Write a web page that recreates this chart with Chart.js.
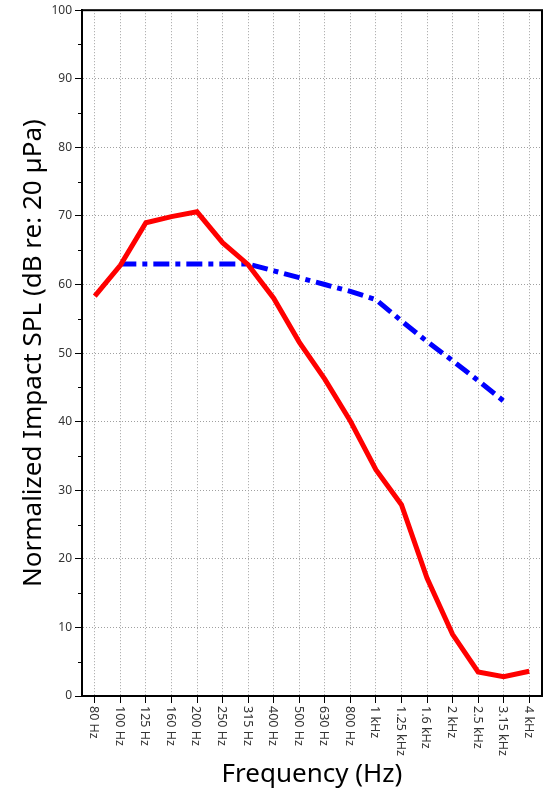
<!DOCTYPE html>
<html>
<head>
<meta charset="utf-8">
<script src="https://cdn.jsdelivr.net/npm/chart.js@4.4.1/dist/chart.umd.min.js"></script>
<style>
  html, body { margin: 0; padding: 0; background: #fff; }
  #chart { display: block; }
</style>
</head>
<body>
<canvas id="chart" width="550" height="800"></canvas>
<script>
const frequencies = ['80 Hz', '100 Hz', '125 Hz', '160 Hz', '200 Hz', '250 Hz', '315 Hz', '400 Hz', '500 Hz', '630 Hz',
    '800 Hz', '1 kHz', '1.25 kHz', '1.6 kHz', '2 kHz', '2.5 kHz', '3.15 kHz', '4 kHz'];
// red solid curve
const measuredSPL = [58.3, 62.8, 69.0, 69.9, 70.6, 66.1, 62.9, 58.0, 51.6, 46.2, 40.1, 33.0, 27.9, 17.2, 9.0, 3.5, 2.8, 3.6];
// blue dash-dot reference curve (starts at 100 Hz, ends at 3.15 kHz)
const referenceSPL = [null, 63, 63, 63, 63, 63, 63, 62, 61, 60, 59, 57.8, 54.7, 51.7, 48.9, 46.0, 43.0, null];
const yTicks = [0, 10, 20, 30, 40, 50, 60, 70, 80, 90, 100];

const fontFamily = '"Noto Sans", "Open Sans", sans-serif';

// draws frame, minor y ticks and the x labels reading top-to-bottom
const framePlugin = {
    id: 'frame',
    afterDraw(chart) {
        const ctx = chart.ctx;
        const area = chart.chartArea;
        const xScale = chart.scales.x;
        const yScale = chart.scales.y;
        ctx.save();
        ctx.setLineDash([]);

        ctx.strokeStyle = '#000';
        ctx.lineWidth = 2;
        ctx.strokeRect(area.left, area.top, area.right - area.left, area.bottom - area.top);

        ctx.lineWidth = 1;
        for (let v = 5; v < 100; v += 10) {
            const y = Math.round(yScale.getPixelForValue(v)) + 0.5;
            ctx.beginPath();
            ctx.moveTo(area.left - 4, y);
            ctx.lineTo(area.left, y);
            ctx.stroke();
        }

        ctx.fillStyle = '#333';
        ctx.font = '12.5px ' + fontFamily;
        ctx.textAlign = 'left';
        ctx.textBaseline = 'middle';
        frequencies.forEach((label, i) => {
            const x = xScale.getPixelForTick(i);
            ctx.save();
            ctx.translate(x - 1, area.bottom + 10);
            ctx.rotate(Math.PI / 2);
            ctx.fillText(label, 0, 0);
            ctx.restore();
        });
        ctx.restore();
    }
};

const ctx = document.getElementById('chart').getContext('2d');
new Chart(ctx, {
    type: 'line',
    data: {
        labels: frequencies,
        datasets: [
            {
                label: 'Measured',
                data: measuredSPL,
                borderColor: '#ff0000',
                borderWidth: 5,
                pointRadius: 0,
                tension: 0,
                fill: false
            },
            {
                label: 'Reference',
                data: referenceSPL,
                borderColor: '#0000ff',
                borderWidth: 5,
                borderDash: [16, 6, 5, 6],
                borderCapStyle: 'butt',
                pointRadius: 0,
                tension: 0,
                spanGaps: false,
                fill: false
            }
        ]
    },
    options: {
        responsive: false,
        animation: false,
        layout: { padding: { left: 0, top: 8, right: 8, bottom: 0 } },
        plugins: {
            legend: { display: false },
            tooltip: { enabled: false }
        },
        scales: {
            x: {
                offset: true,
                afterFit(scale) { scale.height = 104; },
                grid: {
                    color: '#a0a0a0',
                    lineWidth: 1,
                    tickColor: '#000',
                    tickLength: 7,
                    tickBorderDash: []
                },
                border: { display: true, color: '#000', width: 2, dash: [1, 2] },
                ticks: {
                    color: 'rgba(0,0,0,0)',
                    autoSkip: false,
                    minRotation: 90,
                    maxRotation: 90,
                    font: { family: fontFamily, size: 12.5 }
                },
                title: {
                    display: true,
                    text: 'Frequency (Hz)',
                    color: '#000',
                    font: { family: fontFamily, size: 26 },
                    padding: { top: 0, bottom: 10 }
                }
            },
            y: {
                min: 0,
                max: 100,
                afterFit(scale) { scale.width = 82; },
                afterBuildTicks(scale) { scale.ticks = yTicks.map(v => ({ value: v })); },
                grid: {
                    color: '#a0a0a0',
                    lineWidth: 1,
                    tickColor: '#000',
                    tickLength: 7,
                    tickBorderDash: []
                },
                border: { display: true, color: '#000', width: 2, dash: [1, 2] },
                ticks: {
                    color: '#333',
                    padding: 3,
                    font: { family: fontFamily, size: 12 }
                },
                title: {
                    display: true,
                    text: 'Normalized Impact SPL (dB re: 20 µPa)',
                    color: '#000',
                    font: { family: fontFamily, size: 26 },
                    padding: { top: 18, bottom: 0 }
                }
            }
        }
    },
    plugins: [framePlugin]
});
</script>
</body>
</html>
